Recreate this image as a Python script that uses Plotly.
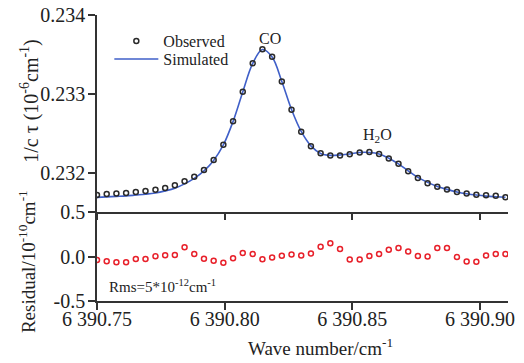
import plotly.graph_objects as go

# ---- data ----
wavenumber = [
    6390.7500, 6390.7538, 6390.7576, 6390.7614, 6390.7652, 6390.7690, 6390.7729,
    6390.7767, 6390.7805, 6390.7843, 6390.7881, 6390.7919, 6390.7957, 6390.7995,
    6390.8033, 6390.8071, 6390.8110, 6390.8148, 6390.8186, 6390.8224, 6390.8262,
    6390.8300, 6390.8338, 6390.8376, 6390.8414, 6390.8452, 6390.8490, 6390.8529,
    6390.8567, 6390.8605, 6390.8643, 6390.8681, 6390.8719, 6390.8757, 6390.8795,
    6390.8833, 6390.8871, 6390.8910, 6390.8948, 6390.8986, 6390.9024, 6390.9062,
    6390.9100,
]
observed = [
    0.231717, 0.231727, 0.231734, 0.231740, 0.231753, 0.231765, 0.231781,
    0.231806, 0.231840, 0.231891, 0.231948, 0.232032, 0.232159, 0.232354,
    0.232653, 0.233027, 0.233387, 0.233566, 0.233471, 0.233157, 0.232799,
    0.232519, 0.232335, 0.232246, 0.232216, 0.232216, 0.232233, 0.232254,
    0.232262, 0.232237, 0.232180, 0.232113, 0.232018, 0.231930, 0.231866,
    0.231821, 0.231787, 0.231753, 0.231734, 0.231720, 0.231711, 0.231707,
    0.231688,
]
simulated = [
    0.231685, 0.231692, 0.231698, 0.231704, 0.231715, 0.231726, 0.231742,
    0.231768, 0.231802, 0.231857, 0.231926, 0.232022, 0.232155, 0.232351,
    0.232649, 0.233023, 0.233385, 0.233562, 0.233467, 0.233157, 0.232801,
    0.232522, 0.232339, 0.232243, 0.232218, 0.232224, 0.232237, 0.232256,
    0.232256, 0.232237, 0.232183, 0.232110, 0.232022, 0.231939, 0.231876,
    0.231825, 0.231787, 0.231755, 0.231732, 0.231715, 0.231702, 0.231694,
    0.231688,
]
residual = [
    -0.040, -0.053, -0.066, -0.066, -0.027, -0.027, 0.002, 0.015, 0.017, 0.104,
    0.028, -0.025, -0.049, -0.070, -0.021, 0.038, 0.027, -0.030, -0.010, 0.008,
    0.023, 0.010, 0.034, 0.110, 0.148, 0.084, -0.034, -0.034, 0.005, 0.027,
    0.076, 0.095, 0.057, 0.005, 0.000, 0.095, 0.095, -0.007, -0.057, -0.060,
    0.011, 0.027, 0.027,
]
x_tickvals = [6390.75, 6390.80, 6390.85, 6390.90]
x_ticktext = ["6 390.75", "6 390.80", "6 390.85", "6 390.90"]
top_tickvals = [0.232, 0.233, 0.234]
top_ticktext = ["0.232", "0.233", "0.234"]
res_tickvals = [-0.5, 0.0, 0.5]
res_ticktext = ["-0.5", "0.0", "0.5"]

FONT = "Liberation Serif, Times New Roman, serif"
AX = "#333333"
BLUE = "#3f5fc8"
RED = "#e8202a"

fig = go.Figure()
fig.add_trace(go.Scatter(
    x=wavenumber, y=simulated, mode="lines", name="Simulated",
    line=dict(color=BLUE, width=1.6, shape="spline"),
    xaxis="x", yaxis="y", legend="legend2",
))
fig.add_trace(go.Scatter(
    x=wavenumber, y=observed, mode="markers", name="Observed",
    marker=dict(symbol="circle-open", size=5, color="#2a2a2a", line=dict(width=1.5)),
    xaxis="x", yaxis="y", legend="legend",
))
fig.add_trace(go.Scatter(
    x=wavenumber, y=residual, mode="markers", name="Residual", showlegend=False,
    marker=dict(symbol="circle-open", size=5, color=RED, line=dict(width=1.5)),
    xaxis="x2", yaxis="y2",
))

split = 89 / 286
xcommon = dict(range=[6390.75, 6390.911], showgrid=False, zeroline=False,
               showline=True, linecolor=AX, linewidth=1.5, ticks="outside",
               tickcolor=AX, tickwidth=1.5, tickvals=x_tickvals, automargin=False)
ycommon = dict(showgrid=False, zeroline=False, showline=True, linecolor=AX, linewidth=1.5,
               ticks="outside", ticklen=7, tickcolor=AX, tickwidth=1.5, automargin=False,
               ticklabelstandoff=-1)
legcommon = dict(xanchor="left", yanchor="middle", bgcolor="rgba(0,0,0,0)",
                 font=dict(size=16), itemwidth=44, borderwidth=0)
fig.update_layout(
    template="none",
    width=524, height=363, autosize=False,
    margin=dict(l=97, r=16, t=15, b=62, pad=0),
    paper_bgcolor="white", plot_bgcolor="white",
    font=dict(family=FONT, size=20, color="#222222"),
    xaxis=dict(**xcommon, anchor="y", domain=[0, 1], showticklabels=False, ticklen=6),
    xaxis2=dict(**xcommon, anchor="y2", domain=[0, 1], matches="x", ticklen=7,
                ticktext=x_ticktext, showticklabels=True, ticklabelstandoff=-8),
    yaxis=dict(**ycommon, domain=[split, 1], range=[0.2315, 0.234], anchor="x",
               tickvals=top_tickvals, ticktext=top_ticktext),
    yaxis2=dict(**ycommon, domain=[0, split], range=[-0.5, 0.5], anchor="x2",
                tickvals=res_tickvals, ticktext=res_ticktext),
    legend=dict(**legcommon, x=0.03, y=0.909),
    legend2=dict(**legcommon, x=0.03, y=0.846),
    showlegend=True,
)

fig.add_annotation(text="CO", x=6390.8176, y=0.233708, xref="x", yref="y",
                   showarrow=False, font=dict(size=16))
fig.add_annotation(text="H<sub>2</sub>O", x=6390.8598, y=0.232465, xref="x", yref="y",
                   showarrow=False, font=dict(size=16))
fig.add_annotation(text="Rms=5*10<sup>-12</sup>cm<sup>-1</sup>", x=6390.7539, y=-0.33,
                   xref="x2", yref="y2", xanchor="left", showarrow=False,
                   font=dict(size=15))
fig.add_annotation(text="Wave number/cm<sup>-1</sup>", x=0.545, y=0, xref="paper", yref="paper",
                   xanchor="center", yanchor="middle",
                   yshift=-46, showarrow=False, font=dict(size=19))
fig.add_annotation(text="1/c \u03c4 (10<sup>-6</sup>cm<sup>-1</sup>)", x=0, y=0.70,
                   xref="paper", yref="paper", xanchor="center", yanchor="middle",
                   xshift=-67, textangle=-90, showarrow=False, font=dict(size=20))
fig.add_annotation(text="Residual/10<sup>-10</sup>cm<sup>-1</sup>", x=0, y=0.136,
                   xref="paper", yref="paper", xanchor="center", yanchor="middle",
                   xshift=-70, textangle=-90, showarrow=False, font=dict(size=19))

fig.write_html("out.html", config={"displayModeBar": False},
               post_script="document.body.style.margin='0';document.body.style.overflow='hidden';")
